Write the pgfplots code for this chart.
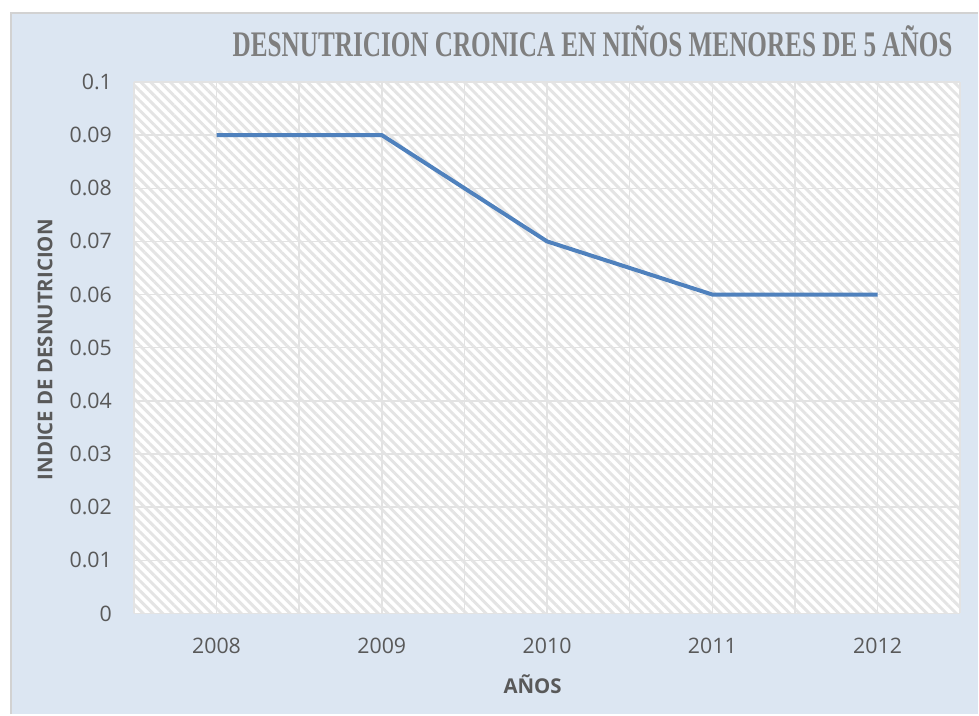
\documentclass[border=0pt]{standalone}
\usepackage{pgfplots}
\pgfplotsset{compat=1.18}
\usepackage{fontspec}
\setmainfont{Open Sans}
\newfontfamily\titlefont{Liberation Serif}
\usetikzlibrary{patterns.meta}
\definecolor{bgblue}{HTML}{DCE6F2}
\definecolor{linecol}{HTML}{4F81BD}
\definecolor{txt}{HTML}{595959}
\definecolor{ttl}{HTML}{7F7F7F}
\definecolor{gridc}{HTML}{E3E3E3}
\definecolor{stripe}{HTML}{E4E4E4}
\begin{document}
\begin{tikzpicture}[x=0.75pt,y=0.75pt]
\fill[white] (0,0) rectangle (979,715);
\fill[bgblue] (11,0) rectangle (979,702);
\draw[gray!35,line width=1.2pt] (11,0) -- (11,702) -- (979,702);
\begin{axis}[
  at={(100.5pt,75.75pt)}, anchor=south west,
  scale only axis, width=620.25pt, height=399pt,
  xmin=-0.5, xmax=4.5, ymin=0, ymax=0.1,
  xtick={0,1,2,3,4},
  xticklabels={2008,2009,2010,2011,2012},
  minor xtick={-0.5,0.5,1.5,2.5,3.5,4.5},
  ytick={0,0.01,0.02,0.03,0.04,0.05,0.06,0.07,0.08,0.09,0.1},
  yticklabels={0,0.01,0.02,0.03,0.04,0.05,0.06,0.07,0.08,0.09,0.1},
  major tick length=0pt, minor tick length=0pt,
  axis line style={draw=none},
  grid=both,
  major grid style={gridc,line width=1.1pt},
  minor grid style={gridc,line width=1.1pt},
  axis background/.style={preaction={fill=white},
     pattern={Lines[angle=-45,distance=5.2pt,line width=2.2pt]},pattern color=stripe},
  tick label style={font=\fontsize{16}{19}\selectfont, text=txt},
  yticklabel shift=13pt,
  xticklabel shift=15pt,
  every axis y label/.style={at={(axis description cs:-0.1076,0.496)}, rotate=90, anchor=center,
     font=\fontsize{15.3}{18}\selectfont\bfseries, text=txt},
  every axis x label/.style={at={(axis description cs:0.4825,-0.1335)}, anchor=center,
     font=\fontsize{15.3}{18}\selectfont\bfseries, text=txt},
  ylabel={INDICE DE DESNUTRICION},
  xlabel={AÑOS},
  title style={at={(axis description cs:0.9964,1.032)}, anchor=base east,
     font=\titlefont\fontsize{27}{32}\selectfont\bfseries, text=ttl},
  title={\scalebox{0.70}[1]{DESNUTRICION CRONICA EN NIÑOS MENORES DE 5 AÑOS}},
]
\addplot[linecol, line width=3pt, line join=round] coordinates {
  (0,0.09) (1,0.09) (2,0.07) (3,0.06) (4,0.06)
};
\end{axis}
\end{tikzpicture}
\end{document}
